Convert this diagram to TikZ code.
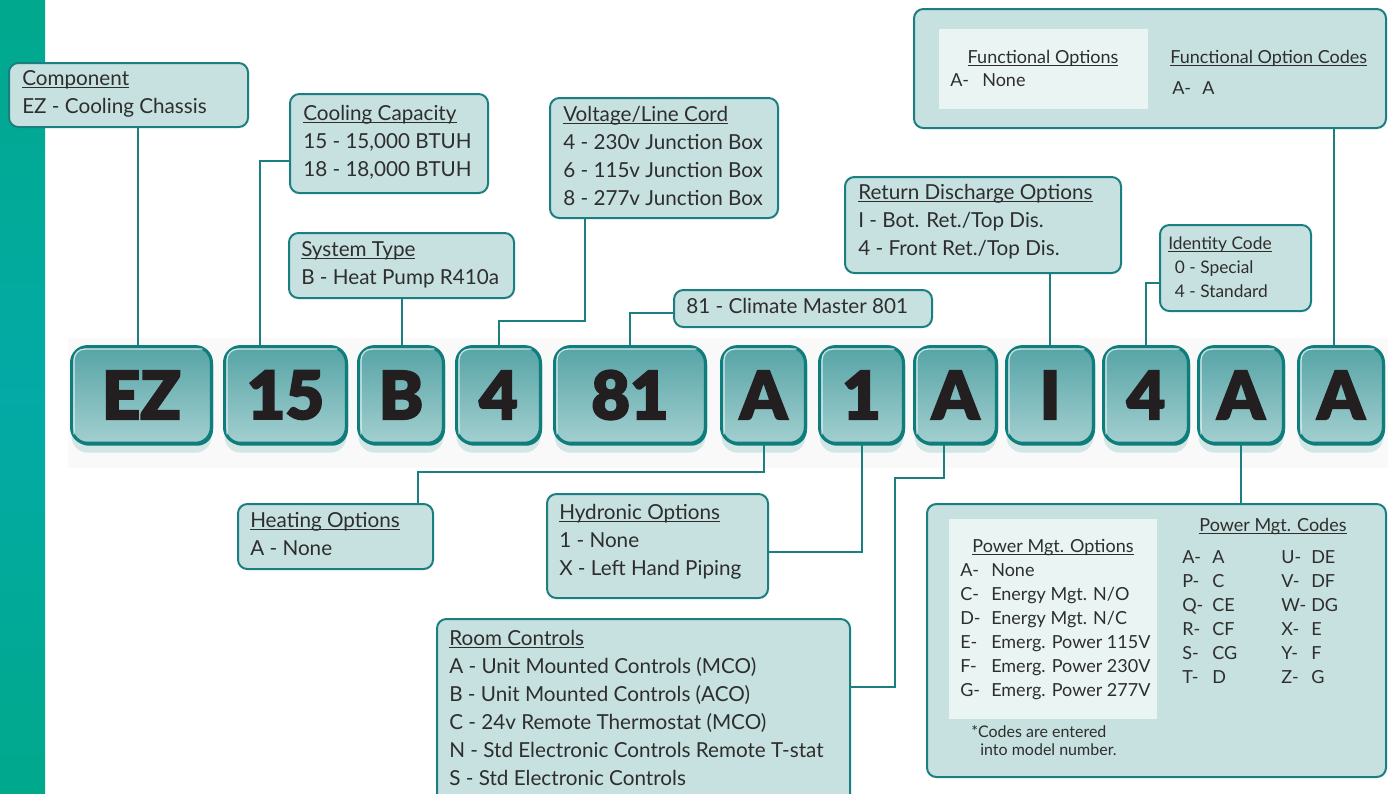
\documentclass[tikz,border=0pt]{standalone}
\usepackage{fontspec}
\setmainfont{Lato}
\IfFontExistsTF{Lato Black}{\newfontfamily\codefont{Lato Black}[FakeBold=2.5]}{\newfontfamily\codefont{DejaVu Sans}[UprightFont=* Bold, FakeBold=1.5]}
\usetikzlibrary{shadows}

\definecolor{linkteal}{HTML}{1B7E80}
\definecolor{calloutfill}{HTML}{C6E1E0}
\definecolor{innerfill}{HTML}{E9F4F3}
\definecolor{rimteal}{HTML}{0E7D7C}
\definecolor{boxtop}{HTML}{56A4A6}
\definecolor{boxbot}{HTML}{A3CFD0}
\definecolor{textgray}{HTML}{2E2E2E}
\definecolor{lettergray}{HTML}{231F20}
\definecolor{stripgreen}{HTML}{00A98C}
\definecolor{stripteal}{HTML}{03AAA6}

\newsavebox\undlbox
\newcommand\undl[1]{\sbox\undlbox{#1}\rlap{\rule[-2pt]{\wd\undlbox}{0.7pt}}#1}

\begin{document}
\begin{tikzpicture}[x=0.75pt, y=-0.75pt,
  link/.style={draw=linkteal, line width=1.5pt},
  callout/.style={draw=linkteal, line width=1.5pt, fill=calloutfill, rounded corners=7pt, anchor=north west, inner sep=0pt},
  calltext/.style={anchor=north west, inner sep=0pt, align=left, text=textgray, font=\fontsize{15.5}{21}\selectfont},
  smalltext/.style={inner sep=0pt, text=textgray, font=\fontsize{13.5}{18}\selectfont},
  codebox/.style={draw=rimteal, line width=2.4pt, rounded corners=12pt, top color=boxtop, bottom color=boxbot,
    minimum height=72.5pt, inner sep=0pt, text=lettergray, font=\codefont\fontsize{50}{50}\selectfont,
    general shadow={fill=boxbot, opacity=.45, shadow yshift=-7pt},
    general shadow={fill=rimteal, shadow xshift=1.2pt, shadow yshift=-1.8pt}}]
\useasboundingbox (0,0) rectangle (1388,793);

% side strip and band behind the code
\fill[top color=stripgreen, bottom color=stripgreen, middle color=stripteal] (0,0) rectangle (45,793);
\fill[gray!5] (68,338) rectangle (1388,468);

% model number code
\foreach \n/\cx/\w/\t in {1/141.5/143/EZ, 2/285.5/125/15, 3/401/88/B, 4/498.5/87/4, 5/630/154/81, 6/763.5/87/A,
    7/861.5/87/1, 8/955.5/85/A, 9/1050/90/I, 10/1146/88/4, 11/1241/88/A, 12/1341/88/A}
  {
    \node[codebox, minimum width=\w*0.75pt-2.4pt] (c\n) at (\cx,395) {\t};
    \draw[white, opacity=.75, line width=1pt, rounded corners=8pt]
      ([shift={(3pt,8pt)}]c\n.south west) -- ([shift={(3pt,-3pt)}]c\n.north west) -- ([shift={(-8pt,-3pt)}]c\n.north east);
  }

% callouts above
\node[callout, minimum width=179.25pt, minimum height=48pt] (comp) at (8,62) {};
\node[calltext] (compt) at (22,70) {\undl{Component}\\EZ - Cooling Chassis};
\node[callout, minimum width=148.5pt, minimum height=74.25pt] (cool) at (289,93) {};
\node[calltext] (coolt) at (303,105) {\undl{Cooling Capacity}\\15 - 15,000 BTUH\\18 - 18,000 BTUH};
\node[callout, minimum width=168.75pt, minimum height=48.75pt] (sys) at (288,232) {};
\node[calltext] (syst) at (301,241) {\undl{System Type}\\B - Heat Pump R410a};
\node[callout, minimum width=171pt, minimum height=90pt] (volt) at (549,97) {};
\node[calltext] (voltt) at (563,106) {\undl{Voltage/Line Cord}\\4 - 230v Junction Box\\6 - 115v Junction Box\\8 - 277v Junction Box};
\node[callout, minimum width=193.5pt, minimum height=27.75pt] (cm) at (673,289) {};
\node[calltext] (cmt) at (686,298) {81 - Climate Master 801};
\node[callout, minimum width=207pt, minimum height=72pt] (ret) at (844,176) {};
\node[calltext] (rett) at (858,184) {\undl{Return Discharge Options}\\I - Bot. Ret./Top Dis.\\4 - Front Ret./Top Dis.};
\node[callout, minimum width=113.25pt, minimum height=64.5pt] (ident) at (1159,224) {};
\node[calltext, font=\fontsize{13}{18}\selectfont] (identt) at (1168,236)
  {\undl{Identity Code}\\\hspace*{5pt}0 - Special\\\hspace*{5pt}4 - Standard};

% functional options
\node[callout, minimum width=354pt, minimum height=89.25pt] (func) at (913,8) {};
\node[fill=innerfill, anchor=north west, inner sep=0pt, minimum width=156.75pt, minimum height=60pt] (funcin) at (939,29) {};
\node[smalltext, anchor=base] (fohead) at (1043,63) {\undl{Functional Options}};
\node[smalltext, anchor=base west] (fol) at (950,86) {A-};
\node[smalltext, anchor=base west] (fot) at (982,86) {None};
\node[smalltext, anchor=base west] (fchead) at (1170,63) {\undl{Functional Option Codes}};
\node[smalltext, anchor=base west] (fcl) at (1172,94) {A-};
\node[smalltext, anchor=base west] (fct) at (1202,94) {A};

% callouts below
\node[callout, minimum width=146.25pt, minimum height=48.75pt] (heat) at (237,503) {};
\node[calltext] (heatt) at (250,512) {\undl{Heating Options}\\A - None};
\node[callout, minimum width=165.75pt, minimum height=78pt] (hydro) at (546,493) {};
\node[calltext] (hydrot) at (559,504) {\undl{Hydronic Options}\\1 - None\\X - Left Hand Piping};
\node[callout, minimum width=309.75pt, minimum height=142.5pt] (room) at (436,618) {};
\node[calltext] (roomt) at (449,630) {\undl{Room Controls}\\A - Unit Mounted Controls (MCO)\\B - Unit Mounted Controls (ACO)\\
  C - 24v Remote Thermostat (MCO)\\N - Std Electronic Controls Remote T-stat\\S - Std Electronic Controls};

% power management
\node[callout, minimum width=344.25pt, minimum height=204.75pt] (power) at (926,503) {};
\node[fill=innerfill, anchor=north west, inner sep=0pt, minimum width=156pt, minimum height=150pt] (powerin) at (949,519) {};
\node[smalltext, anchor=base] (pmhead) at (1053,552) {\undl{Power Mgt. Options}};
\foreach \l/\t [count=\k] in {A-/None, C-/Energy Mgt. N\slash O, D-/Energy Mgt. N\slash C,
    E-/Emerg. Power 115V, F-/Emerg. Power 230V, G-/Emerg. Power 277V}
  {
    \node[smalltext, anchor=base west] (pml\k) at (960,552+24*\k) {\l};
    \node[smalltext, anchor=base west] (pmt\k) at (991,552+24*\k) {\t};
  }
\node[smalltext, anchor=base] (pchead) at (1273,531) {\undl{Power Mgt. Codes}};
\foreach \a/\b/\c/\d [count=\k] in {A-/A/U-/DE, P-/C/V-/DF, Q-/CE/W-/DG, R-/CF/X-/E, S-/CG/Y-/F, T-/D/Z-/G}
  {
    \node[smalltext, anchor=base west] (pca\k) at (1182,539+24*\k) {\a};
    \node[smalltext, anchor=base west] (pcb\k) at (1212,539+24*\k) {\b};
    \node[smalltext, anchor=base west] (pcc\k) at (1281,539+24*\k) {\c};
    \node[smalltext, anchor=base west] (pcd\k) at (1311,539+24*\k) {\d};
  }
\node[smalltext, font=\fontsize{12}{14}\selectfont, anchor=base west] (note1) at (971,737) {*Codes are entered};
\node[smalltext, font=\fontsize{12}{14}\selectfont, anchor=base west] (note2) at (980,755) {into model number.};

% connectors
\coordinate (bComp) at (138,0);
\coordinate (bCool) at (260,161);
\coordinate (bVolt) at (585,321);
\coordinate (bCm) at (632,313);
\coordinate (bId) at (1143,283);
\coordinate (bFunc) at (1334,0);
\coordinate (bHeat) at (418,472);
\coordinate (bHyd) at (861,552);
\coordinate (bRoom) at (944,478);
\coordinate (bRoom2) at (895,687);
\draw[link] (comp.south -| bComp) -- (c1.north -| bComp);
\draw[link] (cool.west |- bCool) -- (bCool) -- (bCool |- c2.north);
\draw[link] (sys.south) -- (sys.south |- c3.north);
\draw[link] (volt.south -| bVolt) -- (bVolt) -| (c4.north);
\draw[link] (cm.west |- bCm) -| (c5.north);
\draw[link] (ret.south -| c9.north) -- (c9.north);
\draw[link] (ident.west |- bId) -| (c10.north);
\draw[link] (func.south -| bFunc) -- (c12.north -| bFunc);
\draw[link] (c6.south) |- (bHeat) -- (heat.north -| bHeat);
\draw[link] (c7.south) |- (hydro.east |- bHyd);
\draw[link] (c8.south -| bRoom) -- (bRoom) -| (bRoom2) -- (room.east |- bRoom2);
\draw[link] (c11.south) -- (power.north -| c11.south);
\end{tikzpicture}
\end{document}
